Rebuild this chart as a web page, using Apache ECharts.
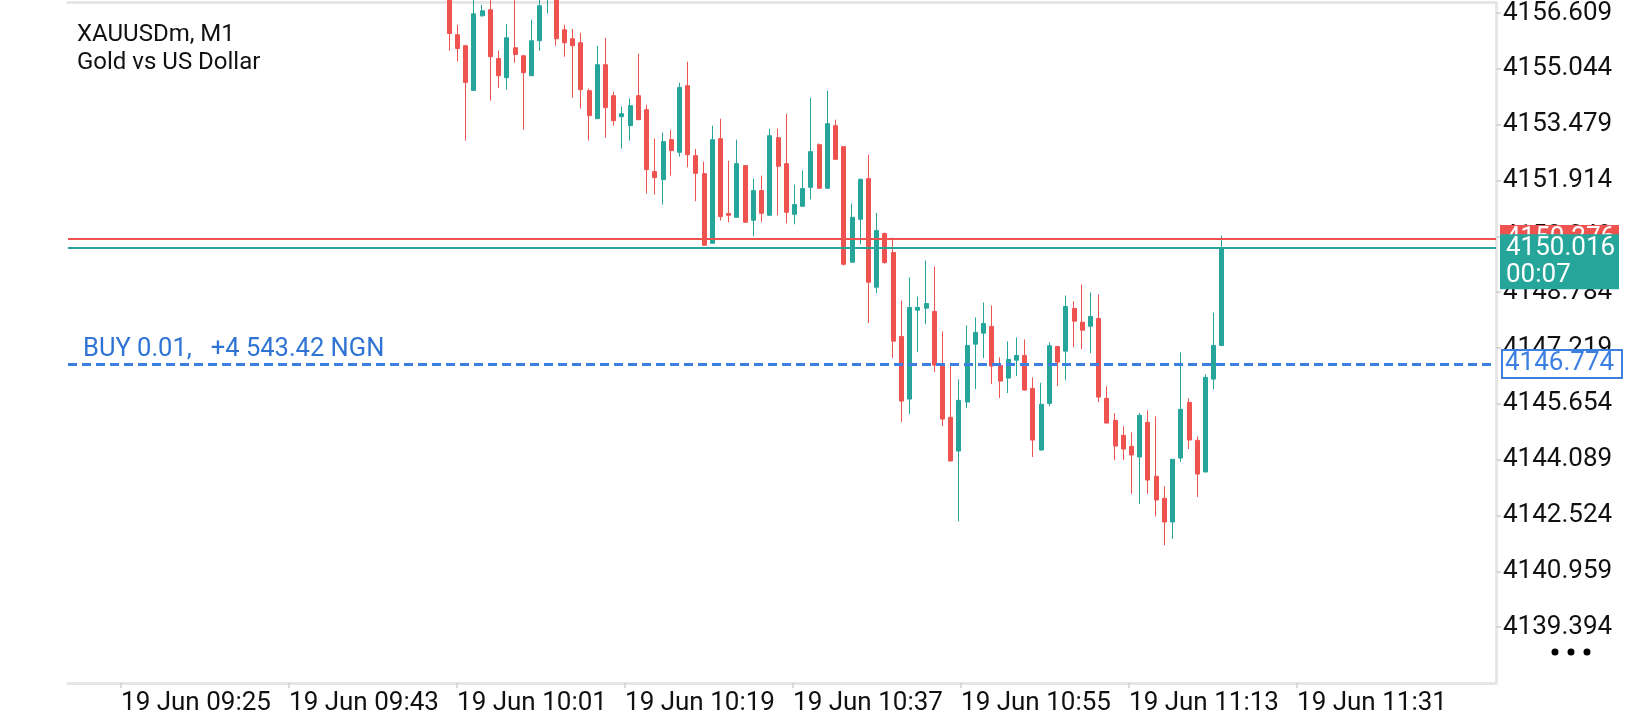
<!DOCTYPE html>
<html>
<head>
<meta charset="utf-8">
<title>XAUUSDm, M1</title>
<style>
  html, body { margin: 0; padding: 0; background: #fff; }
  #chart { width: 1640px; height: 720px; }
</style>
<script src="https://cdn.jsdelivr.net/npm/echarts@6.0.0/dist/echarts.min.js"></script>
</head>
<body>
<div id="chart"></div>
<script>
// header text
const symbolName = 'XAUUSDm, M1'
const symbolDesc = 'Gold vs US Dollar'

// time axis labels
const tickDay = '19 Jun'
const tickTimes = ['09:25', '09:43', '10:01', '10:19', '10:37', '10:55', '11:13', '11:31']

// price axis
const priceMin = 4137.829
const priceMax = 4156.898
const priceStep = 1.565

// M1 bars, oldest first
const opens = [
  4157.371, 4155.999, 4155.691, 4154.439, 4156.531, 4156.699, 4155.335, 4154.795, 4155.635, 4155.411,
  4154.851, 4155.831, 4157.200, 4157.200, 4156.139, 4155.887, 4155.775, 4154.431, 4153.647, 4155.159,
  4154.291, 4153.703, 4153.451, 4154.291, 4153.899, 4152.163, 4151.939, 4153.059, 4152.703, 4154.571,
  4152.611, 4152.107, 4150.155, 4153.087, 4150.987, 4150.883, 4152.331, 4150.799, 4151.631, 4150.939,
  4153.115, 4152.387, 4150.967, 4151.191, 4151.723, 4152.919, 4151.695, 4153.451, 4152.863, 4149.623,
  4150.827, 4151.967, 4148.923, 4150.427, 4149.895, 4147.543, 4145.787, 4148.279, 4148.335, 4148.243,
  4146.739, 4145.275, 4144.331, 4145.703, 4147.327, 4147.635, 4147.823, 4146.731, 4146.375, 4146.879,
  4147.011, 4146.087, 4144.359, 4145.667, 4147.263, 4147.131, 4148.327, 4147.943, 4147.831, 4148.047,
  4145.807, 4145.191, 4144.771, 4144.463, 4144.163, 4145.135, 4143.623, 4143.007, 4142.343, 4144.135,
  4145.695, 4144.631, 4143.743, 4146.347, 4147.291
]
const closes = [
  4156.035, 4155.615, 4154.663, 4156.587, 4156.671, 4155.383, 4154.851, 4155.915, 4155.447, 4154.935,
  4155.831, 4156.811, 4157.500, 4155.887, 4155.775, 4155.691, 4154.459, 4153.731, 4155.159, 4153.955,
  4153.591, 4153.787, 4154.011, 4153.619, 4152.219, 4151.995, 4153.003, 4152.751, 4154.523, 4152.639,
  4152.115, 4150.099, 4153.059, 4150.903, 4150.939, 4152.387, 4150.743, 4151.631, 4150.995, 4153.171,
  4152.311, 4151.023, 4151.239, 4151.687, 4152.723, 4151.695, 4153.507, 4152.507, 4149.567, 4150.883,
  4151.947, 4149.063, 4150.511, 4149.615, 4147.411, 4145.731, 4148.355, 4148.355, 4148.467, 4146.739,
  4145.227, 4144.051, 4145.751, 4147.291, 4147.655, 4147.907, 4146.711, 4146.291, 4146.899, 4147.011,
  4146.039, 4144.639, 4145.639, 4147.283, 4146.823, 4148.383, 4147.971, 4147.719, 4148.103, 4145.843,
  4145.115, 4144.471, 4144.387, 4144.219, 4145.331, 4143.519, 4142.959, 4142.343, 4144.099, 4145.499,
  4144.639, 4143.687, 4146.395, 4147.291, 4150.016
]
const lows = [
  4155.551, 4155.251, 4153.031, 4154.430, 4156.503, 4154.151, 4154.507, 4154.459, 4155.215, 4153.339,
  4154.845, 4155.551, 4156.595, 4155.691, 4155.383, 4154.235, 4153.927, 4153.031, 4153.640, 4153.115,
  4153.451, 4152.807, 4153.031, 4153.610, 4151.547, 4151.519, 4151.239, 4152.051, 4152.583, 4152.283,
  4151.331, 4150.090, 4150.150, 4150.791, 4150.743, 4150.880, 4150.740, 4150.351, 4150.743, 4150.930,
  4150.939, 4150.715, 4150.687, 4151.190, 4151.387, 4151.690, 4151.690, 4152.500, 4149.531, 4149.620,
  4150.127, 4147.915, 4148.755, 4149.580, 4146.935, 4145.143, 4145.367, 4147.103, 4147.887, 4146.543,
  4145.031, 4144.050, 4142.363, 4145.535, 4146.067, 4146.935, 4146.207, 4145.815, 4145.955, 4146.431,
  4146.030, 4144.163, 4144.350, 4145.591, 4146.151, 4146.311, 4147.243, 4147.187, 4147.075, 4145.703,
  4145.110, 4144.079, 4144.079, 4143.127, 4142.847, 4143.127, 4142.495, 4141.691, 4141.867, 4144.023,
  4144.387, 4143.043, 4143.740, 4146.067, 4147.270
]
const highs = [
  4157.651, 4156.279, 4155.720, 4157.050, 4156.839, 4157.050, 4155.551, 4156.299, 4157.000, 4155.420,
  4156.419, 4157.100, 4157.700, 4157.400, 4156.279, 4156.167, 4156.055, 4154.487, 4155.691, 4155.915,
  4154.403, 4153.983, 4154.207, 4155.467, 4154.039, 4153.087, 4153.255, 4153.339, 4154.655, 4155.243,
  4152.799, 4152.443, 4153.451, 4153.647, 4152.471, 4153.059, 4152.340, 4151.967, 4152.051, 4153.367,
  4153.367, 4153.787, 4151.799, 4152.191, 4154.235, 4152.955, 4154.431, 4153.619, 4152.870, 4151.267,
  4151.967, 4152.639, 4151.007, 4150.455, 4150.315, 4148.551, 4149.195, 4148.663, 4149.671, 4149.503,
  4147.683, 4146.815, 4146.339, 4147.851, 4148.075, 4148.495, 4148.411, 4146.955, 4147.403, 4147.515,
  4147.459, 4146.395, 4146.247, 4147.375, 4147.270, 4148.691, 4148.531, 4148.999, 4148.775, 4148.719,
  4146.143, 4145.395, 4145.023, 4144.855, 4145.395, 4145.471, 4145.303, 4143.343, 4144.100, 4147.095,
  4145.807, 4144.743, 4146.479, 4148.215, 4150.371
]

// quote and position
const askPrice = 4150.276
const bidPrice = 4150.016
const barTimer = '00:07'
const buyPrice = 4146.774
const buyText = 'BUY 0.01,   +4 543.42 NGN'

const UP = '#26a69a'
const DOWN = '#ef5350'
const BLUE = '#3b7fe0'
const AXIS = '#e6e6e6'
const FONT = 'Roboto'

const toMinutes = t => {
  const [h, m] = t.split(':').map(Number)
  return h * 60 + m
}
const tickMinutes = tickTimes.map(toMinutes)
const pad = n => String(n).padStart(2, '0')

const candles = opens.map((o, i) => [i, o, closes[i], lows[i], highs[i]])

const chart = echarts.init(document.getElementById('chart'))

chart.setOption({
  animation: false,
  backgroundColor: '#fff',
  textStyle: { fontFamily: FONT },
  title: {
    text: symbolName + '\n' + symbolDesc,
    left: 77,
    top: 21,
    padding: 0,
    textStyle: { fontSize: 24, fontWeight: 'normal', color: '#111', lineHeight: 28, fontFamily: FONT }
  },
  grid: { left: 68, right: 144, top: 2, bottom: 37 },
  xAxis: [
    {
      // bar axis, drawn only as the top border
      type: 'value',
      position: 'top',
      min: -46.39,
      max: 127.34,
      axisLine: { show: true, onZero: false, lineStyle: { color: AXIS, width: 3 } },
      axisTick: { show: false },
      axisLabel: { show: false },
      splitLine: { show: false }
    },
    {
      // clock labels along the bottom
      type: 'value',
      position: 'bottom',
      min: 559.32,
      max: 712.32,
      axisLine: { show: true, onZero: false, lineStyle: { color: AXIS, width: 3 } },
      axisTick: { show: true, length: 5, customValues: tickMinutes, lineStyle: { color: '#d0d0d0', width: 1.5 } },
      axisLabel: {
        customValues: tickMinutes,
        align: 'left',
        margin: 7,
        fontSize: 26,
        color: '#111',
        fontFamily: FONT,
        formatter: v => tickDay + ' ' + pad(Math.floor(v / 60)) + ':' + pad(Math.round(v % 60))
      },
      splitLine: { show: false }
    }
  ],
  yAxis: {
    type: 'value',
    position: 'right',
    min: priceMin,
    max: priceMax,
    interval: priceStep,
    axisLine: { show: true, onZero: false, lineStyle: { color: AXIS, width: 3 } },
    axisTick: { show: true, length: 5, lineStyle: { color: '#d0d0d0', width: 1.5 } },
    axisLabel: {
      showMinLabel: false,
      showMaxLabel: false,
      margin: 7,
      fontSize: 26,
      color: '#111',
      fontFamily: FONT,
      formatter: v => v.toFixed(3)
    },
    splitLine: { show: false }
  },
  series: [
    {
      type: 'candlestick',
      xAxisIndex: 0,
      yAxisIndex: 0,
      data: candles,
      encode: { x: 0, y: [1, 2, 3, 4] },
      barWidth: 4.5,
      clip: true,
      itemStyle: { color: UP, color0: DOWN, borderColor: UP, borderColor0: DOWN, borderWidth: 1 },
      markLine: {
        symbol: 'none',
        silent: true,
        animation: false,
        data: [
          { yAxis: askPrice, lineStyle: { color: DOWN, width: 2, type: 'solid' }, label: { show: false } },
          { yAxis: bidPrice, lineStyle: { color: UP, width: 2, type: 'solid' }, label: { show: false } },
          {
            yAxis: buyPrice,
            lineStyle: { color: BLUE, width: 3, type: [9, 5] },
            label: {
              show: true,
              position: 'insideStartTop',
              distance: [15, 1],
              formatter: buyText,
              color: '#2f74d4',
              fontSize: 25.5,
              fontFamily: FONT
            }
          }
        ]
      }
    }
  ]
})

// price tags on the right scale, placed through the y axis
function drawTags() {
  const py = p => chart.convertToPixel({ yAxisIndex: 0 }, p)
  const tagX = 1500
  const txt = (x, y, text, fill, z) => ({
    type: 'text', z, x, y,
    style: { text, fill, fontSize: 26, fontFamily: FONT, verticalAlign: 'middle' }
  })
  chart.setOption({
    graphic: [
      { type: 'rect', z: 100, shape: { x: tagX, y: py(askPrice) - 14, width: 119, height: 28 }, style: { fill: DOWN } },
      txt(tagX + 6, py(askPrice), askPrice.toFixed(3), '#fff', 101),
      { type: 'rect', z: 102, shape: { x: tagX, y: py(bidPrice) - 14, width: 119, height: 55 }, style: { fill: UP } },
      txt(tagX + 6, py(bidPrice), bidPrice.toFixed(3), '#fff', 103),
      txt(tagX + 6, py(bidPrice) + 27, barTimer, '#fff', 103),
      { type: 'rect', z: 102, shape: { x: tagX + 2, y: py(buyPrice) - 14, width: 120, height: 28 }, style: { fill: '#fff', stroke: BLUE, lineWidth: 2 } },
      txt(tagX + 5, py(buyPrice), buyPrice.toFixed(3), BLUE, 103),
      { type: 'circle', z: 100, shape: { cx: 1555, cy: 652, r: 3.5 }, style: { fill: '#000' } },
      { type: 'circle', z: 100, shape: { cx: 1571, cy: 652, r: 3.5 }, style: { fill: '#000' } },
      { type: 'circle', z: 100, shape: { cx: 1587, cy: 652, r: 3.5 }, style: { fill: '#000' } }
    ]
  })
}
drawTags()
</script>
</body>
</html>
